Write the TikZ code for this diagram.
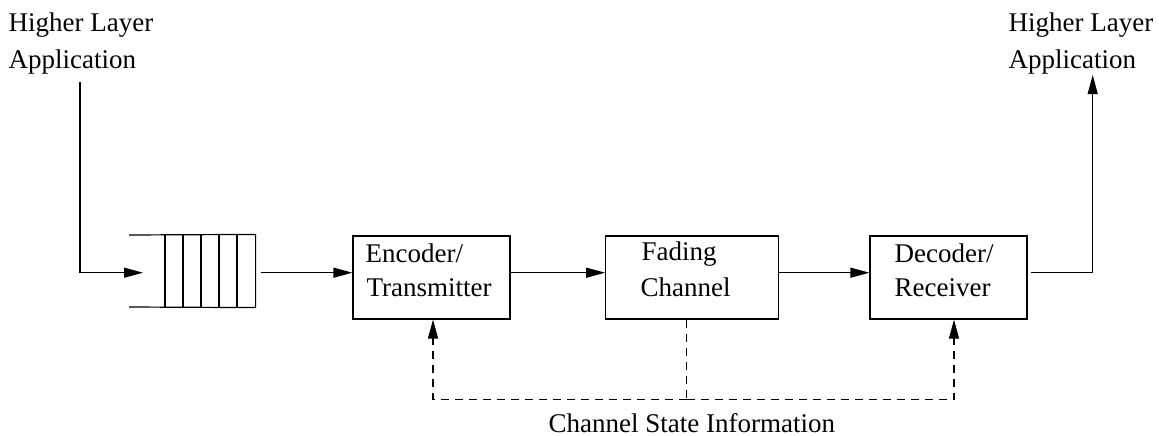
\documentclass[tikz,border=0pt]{standalone}
\usepackage{fontspec}
\setmainfont{Liberation Serif}
\usetikzlibrary{arrows.meta}
\begin{document}
\begin{tikzpicture}[x=1pt,y=-1pt,line width=1.2pt,
  >={Triangle[length=19pt,width=10pt]},
  blockbox/.style={draw,rectangle,inner sep=0pt},
  lbl/.style={anchor=base west,inner sep=0pt,font=\fontsize{27}{36}\selectfont},
  fb/.style={dash pattern=on 8pt off 6pt}]
\useasboundingbox (0,0) rectangle (1159,436);
% labels
\node[lbl] (hl1) at (8,32) {Higher Layer};
\node[lbl] (hl2) at (8,68) {Application};
\node[lbl] (hr1) at (1008,32) {Higher Layer};
\node[lbl] (hr2) at (1008,68) {Application};
% queue
\node[inner sep=0pt,minimum width=90pt,minimum height=72pt] (q) at (210,271) {};
\draw (129,235) -- (q.north east) -- (q.south east) -- (129,307);
\foreach \xx in {165,183,201,219,237}{\draw (\xx,235) -- (\xx,307);}
\coordinate (qin) at (143,272.7);
\coordinate (qout) at (261,272.7);
% blocks
\node[blockbox,minimum width=157pt,minimum height=83pt] (enc) at (431.5,277.5) {};
\node[blockbox,minimum width=172.5pt,minimum height=83pt] (fad) at (692,277.5) {};
\node[blockbox,minimum width=157pt,minimum height=83pt] (dec) at (948.5,277.5) {};
\node[lbl] (enct1) at (365,262) {Encoder/};
\node[lbl] (enct2) at (366,296) {Transmitter};
\node[lbl] (fadt1) at (641,260) {Fading};
\node[lbl] (fadt2) at (640,296) {Channel};
\node[lbl] (dect1) at (894,262) {Decoder/};
\node[lbl] (dect2) at (894,296) {Receiver};
\node[lbl] (csi) at (548,432) {Channel State Information};
% connectors
\coordinate (inTop) at (80,82);
\coordinate (outTop) at (1092.7,75);
\coordinate (decOut) at (1031,272.7);
\draw[->] (inTop) |- (qin);
\draw[->] (qout) -- (qout -| enc.west);
\draw[->] (enc.east |- 0,272.7) -- (fad.west |- 0,272.7);
\draw[->] (fad.east |- 0,272.7) -- (dec.west |- 0,272.7);
\draw[->] (decOut) -| (outTop);
% feedback
\coordinate (fbL) at (433,399.3);
\coordinate (fbR) at (954,399.3);
\coordinate (fbM) at (686.7,399.3);
\draw[fb] (fad.south -| fbM) -- (fbM);
\draw[fb,->] (fbM) -- (fbL) -- (fbL |- enc.south);
\draw[fb,->] (fbM) -- (fbR) -- (fbR |- dec.south);
\end{tikzpicture}
\end{document}
